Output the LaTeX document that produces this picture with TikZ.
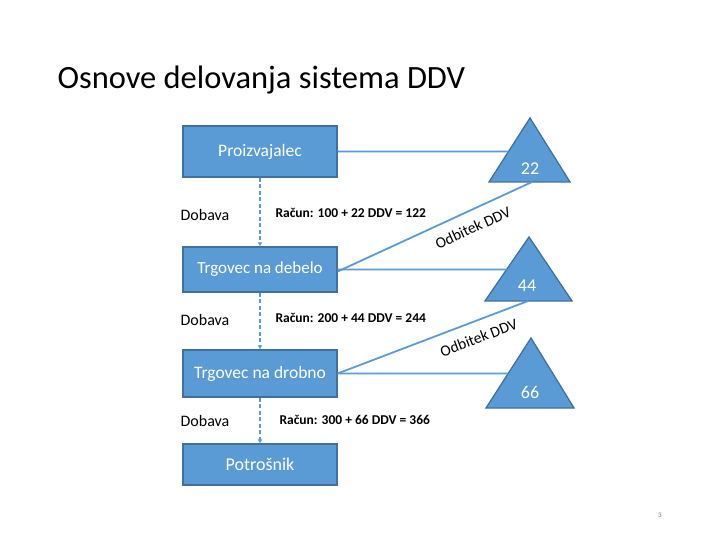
\documentclass[tikz,border=0pt]{standalone}
\usepackage{fontspec}
\setmainfont{Carlito}
\usetikzlibrary{arrows.meta}

\definecolor{ddvfill}{HTML}{5B9BD5}
\definecolor{ddvedge}{HTML}{41719C}
\definecolor{ddvline}{HTML}{5B9BD5}

\begin{document}
\begin{tikzpicture}[x=1pt, y=-1pt,
		box/.style={draw=ddvedge, line width=1.3pt, fill=ddvfill, text=white, minimum width=154pt, inner sep=0pt},
		tri/.style={draw=ddvedge, line width=1.3pt, fill=ddvfill},
		link/.style={draw=ddvline, line width=1.8pt},
		supply/.style={draw=ddvline, line width=1.5pt, dash pattern=on 4pt off 2.5pt, -{Latex[length=4pt, width=5pt]}},
		bill/.style={font=\fontsize{13.5}{15}\selectfont\bfseries, anchor=west},
		odb/.style={font=\fontsize{15.5}{17}\selectfont, sloped, below=7pt}]

	\useasboundingbox (0,0) rectangle (720,540);

	\node[anchor=west, font=\fontsize{32.5}{38}\selectfont] (title) at (54,80) {Osnove delovanja sistema DDV};

	% verige dobave
	\node[box, minimum height=51pt, font=\fontsize{17.5}{19}\selectfont] (pro) at (260,151.5) {Proizvajalec};
	\node[box, minimum height=45pt, font=\fontsize{17}{19}\selectfont] (deb) at (260,269.5) {Trgovec na debelo};
	\node[box, minimum height=47pt, font=\fontsize{17.5}{19}\selectfont] (dro) at (260,373.5) {Trgovec na drobno};
	\node[box, minimum height=41pt, font=\fontsize{18}{20}\selectfont] (pot) at (260,464.5) {Potrošnik};

	% trikotniki DDV
	\coordinate (t1a) at (530,118); \coordinate (t1l) at (489,182); \coordinate (t1r) at (570,182);
	\coordinate (t2a) at (529,237); \coordinate (t2l) at (485,301); \coordinate (t2r) at (572,301);
	\coordinate (t3a) at (531,338); \coordinate (t3l) at (486,408); \coordinate (t3r) at (574,408);
	\draw[tri] (t1a) -- (t1l) -- (t1r) -- cycle;
	\draw[tri] (t2a) -- (t2l) -- (t2r) -- cycle;
	\draw[tri] (t3a) -- (t3l) -- (t3r) -- cycle;
	\node[text=white, font=\fontsize{18}{20}\selectfont] (n1) at (530,169) {22};
	\node[text=white, font=\fontsize{18}{20}\selectfont] (n2) at (527,286) {44};
	\node[text=white, font=\fontsize{18}{20}\selectfont] (n3) at (530,392) {66};

	\coordinate (t1b) at (532,182);
	\coordinate (t2b) at (528,301);
	\coordinate (h1) at (intersection of t1a--t1l and pro.west--pro.east);
	\coordinate (h2) at (intersection of t2a--t2l and deb.west--deb.east);
	\coordinate (h3) at (intersection of t3a--t3l and dro.west--dro.east);

	\draw[link] (pro.east) -- (h1);
	\draw[link] (deb.east) -- (h2);
	\draw[link] (dro.east) -- (h3);
	\draw[link] ([yshift=-2pt]deb.east) -- (t1b) node[odb, pos=0.66] (o1) {Odbitek DDV};
	\draw[link] (dro.east) -- (t2b) node[odb, pos=0.71] (o2) {Odbitek DDV};

	\draw[supply] (pro) -- (deb);
	\draw[supply] (deb) -- (dro);
	\draw[supply] (dro) -- (pot);

	\node[font=\fontsize{16}{18}\selectfont] (d1) at (205,215) {Dobava};
	\node[font=\fontsize{16}{18}\selectfont] (d2) at (205,320) {Dobava};
	\node[font=\fontsize{16}{18}\selectfont] (d3) at (205,421) {Dobava};

	\node[bill] (r1) at (272,213) {Račun: 100 + 22 DDV = 122};
	\node[bill] (r2) at (272,318) {Račun: 200 + 44 DDV = 244};
	\node[bill] (r3) at (276,420) {Račun: 300 + 66 DDV = 366};

	\node[text=gray, font=\fontsize{7}{8}\selectfont] (page) at (660,515) {3};

\end{tikzpicture}
\end{document}
